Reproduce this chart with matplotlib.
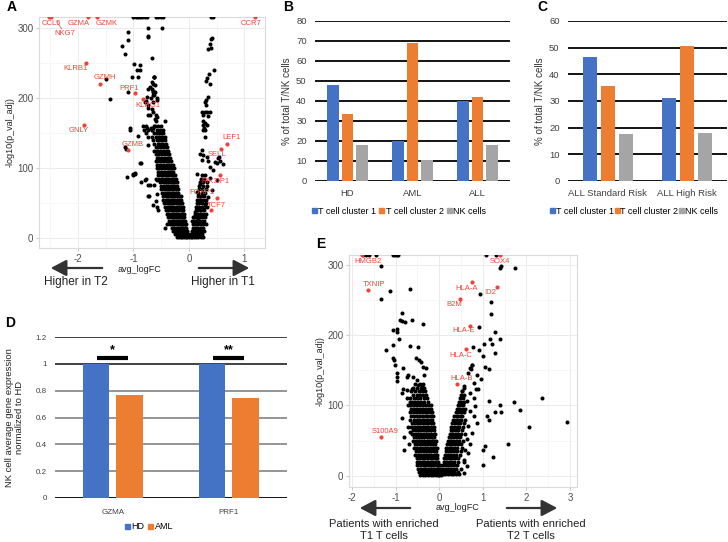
import matplotlib
matplotlib.use('Agg')
import matplotlib.pyplot as plt
from matplotlib.patches import FancyArrowPatch, Patch
from matplotlib.ticker import MultipleLocator

plt.rcParams['font.family'] = ['Liberation Sans', 'DejaVu Sans']
plt.rcParams['axes.unicode_minus'] = False

# ---------------- DATA ----------------
# Panel B
b_categories = ['HD', 'AML', 'ALL']
b_cluster1 = [48, 20, 40]
b_cluster2 = [33.5, 69, 42]
b_nk = [18, 10.5, 18]
# Panel C
c_categories = ['ALL Standard Risk', 'ALL High Risk']
c_cluster1 = [46.5, 31]
c_cluster2 = [35.5, 50.5]
c_nk = [17.5, 18]
# Panel D
d_genes = ['GZMA', 'PRF1']
d_hd = [1.0, 1.0]
d_aml = [0.765, 0.745]
d_sig = ['*', '**']
series_names = ['T cell cluster 1', 'T cell cluster 2', 'NK cells']

# Panel A volcano (avg_logFC, -log10 p_adj); points above the plot top are drawn at the top edge
a_top_x = [-1.0, -0.96, -0.92, -0.88, -0.84, -0.8, -0.76, -0.6, -0.55, -0.5, -0.46, 0.4, 0.43]
a_scatter_x = [-1.09, -0.73, -0.49, -0.73, -1.20, -1.15, -0.67, -0.99, -0.94, -1.03, -0.62, -0.91,
               -1.50, -1.09, -1.42, -0.64, -0.70, -0.67, -0.61, -0.76, -0.58, -0.79, -0.73, -0.67,
               -0.70, -0.61, -1.06, -0.82, -0.76, -0.66, -1.13, -1.15, -0.49, -0.88, -1.00, -0.97,
               -1.12, -0.79, -0.73, -0.73, -0.58, -1.09, -0.74, -0.89, -0.89, -0.62, -0.74, -0.65,
               -0.68, -0.62, -0.77, -0.65, -0.74, -0.65, -0.59, -0.74, -0.59, -0.77, -0.68, -0.74,
               -0.81, -1.07, -0.63, -0.67, -0.61, -0.64, -0.64, -0.57, -0.57, -0.43, -0.61, -0.65,
               -0.54, -0.92, -0.77, -0.74, -0.74, -0.86, -0.98, -1.01, -0.87, -0.77, -0.62, -0.59,
               -0.72, -0.59, -0.57, -0.70, -0.58, -0.43, -0.40, -0.64, -0.55,
               0.41, 0.39, 0.38, 0.35, 0.40, 0.46, 0.37, 0.33, 0.31, 0.38, 0.35, 0.31, 0.29, 0.31,
               0.29, 0.23, 0.32, 0.38, 0.26, 0.35, 0.26, 0.29, 0.25, 0.32, 0.27, 0.29, 0.26, 0.29,
               0.23, 0.20, 0.26, 0.32, 0.23, 0.35, 0.47, 0.53, 0.51, 0.38, 0.44, 0.14, 0.29, 0.38,
               0.50, 0.20, 0.32, 0.41, 0.14, 0.26, 0.35, 0.20, 0.29, 0.14, 0.23, 0.11, 0.20, 0.08,
               0.17, 0.05, 0.14, 0.56, 0.62, 0.55]
a_scatter_y = [294, 300, 300, 289, 274, 263, 258, 249, 240, 231, 231, 230,
               227, 209, 199, 220, 216, 213, 209, 202, 198, 195, 190, 185,
               176, 171, 157, 160, 157, 155, 128, 130, 143, 107, 92, 93,
               87, 83, 76, 61, 63, 283, 288, 248, 240, 230, 213, 209,
               200, 204, 196, 194, 186, 181, 176, 176, 167, 161, 157, 154,
               154, 155, 230, 223, 219, 211, 204, 200, 173, 167, 161, 157,
               150, 146, 150, 145, 133, 108, 92, 91, 80, 84, 76, 84,
               60, 53, 45, 76, 83, 14, 21, 47, 40,
               286, 285, 277, 271, 272, 240, 234, 229, 224, 220, 202, 198, 194, 191,
               181, 180, 180, 180, 176, 175, 168, 165, 162, 162, 158, 154, 154, 145,
               126, 121, 119, 116, 112, 110, 109, 114, 107, 102, 97, 92, 90, 86,
               83, 78, 74, 69, 66, 64, 59, 54, 49, 45, 42, 37, 34, 30,
               27, 25, 23, 111, 106, 116]
a_core_y = [160, 155, 150, 145, 140, 135, 130, 125, 120, 115, 110, 105, 100, 95, 90, 85, 80, 75,
            70, 65, 60, 55, 50, 45, 40, 35, 30, 25, 20, 15, 10, 6, 2]
a_core_left = [
    [-0.62, -0.55, -0.5], [-0.66, -0.58, -0.52, -0.47], [-0.63, -0.57, -0.51, -0.46],
    [-0.66, -0.6, -0.54, -0.48, -0.43], [-0.64, -0.58, -0.53, -0.48, -0.43],
    [-0.62, -0.56, -0.51, -0.46, -0.41], [-0.6, -0.55, -0.5, -0.45, -0.4],
    [-0.62, -0.57, -0.52, -0.47, -0.42, -0.37], [-0.6, -0.55, -0.5, -0.45, -0.4, -0.36],
    [-0.58, -0.53, -0.48, -0.43, -0.38, -0.34], [-0.6, -0.55, -0.5, -0.45, -0.4, -0.36, -0.32],
    [-0.57, -0.52, -0.47, -0.42, -0.37, -0.33, -0.29],
    [-0.58, -0.53, -0.48, -0.43, -0.38, -0.34, -0.3, -0.26],
    [-0.55, -0.5, -0.45, -0.4, -0.36, -0.32, -0.28],
    [-0.56, -0.51, -0.46, -0.41, -0.37, -0.33, -0.29, -0.25],
    [-0.53, -0.48, -0.43, -0.39, -0.35, -0.31, -0.27, -0.23],
    [-0.52, -0.47, -0.42, -0.38, -0.34, -0.3, -0.26, -0.22],
    [-0.5, -0.45, -0.41, -0.37, -0.33, -0.29, -0.25, -0.21],
    [-0.5, -0.45, -0.4, -0.36, -0.32, -0.28, -0.24, -0.2],
    [-0.48, -0.43, -0.39, -0.35, -0.31, -0.27, -0.23, -0.19],
    [-0.47, -0.42, -0.38, -0.34, -0.3, -0.26, -0.22, -0.18, -0.15],
    [-0.46, -0.41, -0.37, -0.33, -0.29, -0.25, -0.21, -0.17, -0.14],
    [-0.45, -0.4, -0.36, -0.32, -0.28, -0.24, -0.2, -0.16, -0.12],
    [-0.43, -0.38, -0.34, -0.3, -0.26, -0.22, -0.18, -0.14, -0.11],
    [-0.42, -0.37, -0.33, -0.29, -0.25, -0.21, -0.17, -0.13, -0.1],
    [-0.4, -0.35, -0.31, -0.27, -0.23, -0.19, -0.15, -0.12, -0.09],
    [-0.38, -0.33, -0.29, -0.25, -0.21, -0.17, -0.14, -0.11, -0.08],
    [-0.36, -0.31, -0.27, -0.23, -0.19, -0.16, -0.13, -0.1, -0.07],
    [-0.34, -0.3, -0.26, -0.22, -0.18, -0.15, -0.12, -0.09, -0.06],
    [-0.31, -0.27, -0.23, -0.19, -0.16, -0.13, -0.1, -0.07, -0.05],
    [-0.28, -0.24, -0.2, -0.17, -0.14, -0.11, -0.08, -0.05, -0.03],
    [-0.25, -0.21, -0.18, -0.15, -0.12, -0.09, -0.06, -0.04, -0.02],
    [-0.22, -0.18, -0.15, -0.12, -0.09, -0.06, -0.03, 0.0, 0.03]]
a_core_right_y = [2, 6, 10, 15, 20, 25, 30, 35, 40, 45, 50, 55, 60, 65, 70, 75, 80, 85, 90]
a_core_right = [
    [0.05, 0.09, 0.13, 0.17, 0.21, 0.25], [0.04, 0.08, 0.12, 0.16, 0.2, 0.24],
    [0.06, 0.1, 0.14, 0.18, 0.23, 0.27], [0.07, 0.11, 0.15, 0.2, 0.25],
    [0.08, 0.12, 0.16, 0.21, 0.26, 0.3], [0.09, 0.13, 0.18, 0.23, 0.28],
    [0.1, 0.14, 0.19, 0.24, 0.29], [0.11, 0.15, 0.2, 0.25, 0.31], [0.12, 0.17, 0.22, 0.27],
    [0.13, 0.18, 0.23, 0.28, 0.33], [0.14, 0.19, 0.24, 0.3], [0.15, 0.2, 0.26, 0.31],
    [0.16, 0.21, 0.27], [0.17, 0.23, 0.29], [0.18, 0.24, 0.3], [0.19, 0.25],
    [0.2, 0.26, 0.33], [0.22, 0.28], [0.23]]
a_genes = ['CCL5', 'GZMA', 'GZMK', 'CCR7', 'NKG7', 'KLRB1', 'GZMH', 'PRF1', 'KLRG1', 'GNLY',
           'GZMB', 'LEF1', 'SELL', 'PIK3IP1', 'FOXP1', 'TCF7']
a_gene_x = [-2.48, -1.82, -1.66, 1.19, -2.52, -1.86, -1.60, -0.97, -0.83, -1.89,
            -1.09, 0.68, 0.58, 0.56, 0.51, 0.40]
a_gene_y = [316, 316, 316, 316, 316, 250, 220, 207, 199, 162, 126, 135, 128, 90, 58, 40]
# label anchor positions (layout)
a_label_x = [-2.47, -1.99, -1.48, 1.12, -2.23, -2.05, -1.51, -1.08, -0.74, -1.98,
             -1.01, 0.77, 0.50, 0.47, 0.23, 0.50]
a_label_y = [307, 307, 307, 307, 293, 243, 230, 214, 190, 154, 134, 144, 120, 81, 65, 47]

# Panel E volcano
e_top_x = [-1.75, -1.69, -1.6, -1.45, -1.06, -1.02, -0.98, -0.94, 1.08, 1.3]
e_scatter_x = [-1.34, -1.13, -1.34, -0.67, 1.39, 1.41, 1.73, 0.94, 1.19, 1.19, 0.92, 1.28, 1.40,
               1.17, 1.21, 0.77, 1.03, 0.92, 1.01, 1.28, 0.75, 0.72, 1.05, 1.13, 0.67, 0.86,
               0.95, 0.79, 0.88, 0.56, 0.52, 1.15, 1.40, 1.41, 1.28, 1.09, 1.15, 0.71, 0.79,
               0.63, 0.82, 0.71, 0.79, 0.86, 0.67, 0.75, 0.63, 0.71, 0.59, 0.67, 0.56, 0.63,
               0.57, 1.05, 1.00, 1.24, 1.01, 1.57, 1.72, 1.85, 2.07, 2.35, 2.94, 0.74, 0.70,
               0.85,
               -0.85, -0.90, -0.86, -0.79, -0.62, -0.37, -1.05, -0.96, -0.98, -0.92, -1.21,
               -1.05, -0.67, -0.48, -1.05, -1.03, -0.53, -0.47, -0.42, -1.02, -0.98, -0.98,
               -0.98, -0.82, -0.71, -0.73, -0.37, -0.31, -0.35, -0.60, -0.50, -0.48, -0.82,
               -0.75, -0.63, -0.86, -0.75, -0.67, -0.71, -0.40, -0.37, -0.86, -0.81, -0.80,
               -0.72, -0.66, -0.70]
e_scatter_y = [299, 263, 252, 266, 296, 298, 296, 259, 247, 230, 211, 204, 195,
               195, 188, 183, 187, 179, 171, 174, 158, 152, 155, 152, 146, 143,
               138, 132, 123, 128, 120, 106, 100, 91, 91, 85, 79, 118, 111,
               106, 99, 92, 85, 75, 71, 61, 52, 45, 37, 33, 23, 14,
               4, 43, 37, 27, 16, 45, 105, 94, 70, 110, 77, 157, 153,
               123,
               232, 222, 220, 219, 221, 216, 207, 209, 204, 194, 179,
               186, 185, 183, 167, 164, 168, 164, 162, 157, 146, 140,
               135, 153, 143, 141, 155, 153, 143, 141, 136, 129, 124,
               122, 124, 117, 110, 105, 100, 127, 122, 82, 55, 36,
               70, 62, 45]
e_core_left_y = [130, 125, 120, 115, 110, 105, 100, 95, 90, 85, 80, 75, 70, 65, 60, 55, 50, 45,
                 40, 35, 30, 25, 20, 15, 10, 5, 1]
e_core_left = [
    [-0.55, -0.45, -0.38], [-0.6, -0.5, -0.42, -0.35], [-0.64, -0.55, -0.47, -0.4, -0.32],
    [-0.6, -0.52, -0.45, -0.38, -0.3], [-0.66, -0.58, -0.5, -0.43, -0.36, -0.28],
    [-0.62, -0.55, -0.48, -0.41, -0.34, -0.26],
    [-0.68, -0.61, -0.54, -0.47, -0.4, -0.33, -0.26, -0.19],
    [-0.65, -0.58, -0.51, -0.45, -0.38, -0.31, -0.24, -0.18],
    [-0.67, -0.6, -0.53, -0.46, -0.4, -0.33, -0.27, -0.21, -0.16],
    [-0.64, -0.57, -0.5, -0.44, -0.37, -0.31, -0.25, -0.19, -0.14],
    [-0.66, -0.59, -0.52, -0.46, -0.4, -0.34, -0.28, -0.22, -0.16],
    [-0.62, -0.55, -0.49, -0.43, -0.37, -0.31, -0.25, -0.19, -0.14],
    [-0.64, -0.57, -0.5, -0.44, -0.38, -0.32, -0.26, -0.2, -0.13],
    [-0.6, -0.54, -0.48, -0.42, -0.36, -0.3, -0.24, -0.18, -0.12],
    [-0.62, -0.55, -0.49, -0.43, -0.37, -0.31, -0.25, -0.19, -0.13, -0.1],
    [-0.58, -0.52, -0.46, -0.4, -0.34, -0.28, -0.22, -0.16, -0.11],
    [-0.6, -0.53, -0.47, -0.41, -0.35, -0.29, -0.23, -0.17, -0.12, -0.08],
    [-0.56, -0.5, -0.44, -0.38, -0.32, -0.26, -0.2, -0.14, -0.09],
    [-0.57, -0.51, -0.45, -0.39, -0.33, -0.27, -0.21, -0.15, -0.1, -0.06],
    [-0.54, -0.48, -0.42, -0.36, -0.3, -0.24, -0.18, -0.12, -0.07],
    [-0.55, -0.49, -0.43, -0.37, -0.31, -0.25, -0.19, -0.13, -0.08, -0.04],
    [-0.52, -0.46, -0.4, -0.34, -0.28, -0.22, -0.16, -0.1, -0.05],
    [-0.5, -0.44, -0.38, -0.32, -0.26, -0.2, -0.14, -0.08, -0.03],
    [-0.5, -0.44, -0.38, -0.32, -0.26, -0.2, -0.14, -0.08, -0.03, 0.01],
    [-0.48, -0.42, -0.36, -0.3, -0.24, -0.18, -0.12, -0.06, -0.02, 0.02],
    [-0.46, -0.4, -0.34, -0.28, -0.22, -0.16, -0.1, -0.05, 0.0, 0.03],
    [-0.44, -0.38, -0.32, -0.26, -0.2, -0.14, -0.08, -0.03, 0.0, 0.05]]
e_core_right_y = [2, 6, 10, 15, 20, 25, 30, 35, 40, 45, 50, 55, 60, 65, 70, 75, 80, 85, 90, 95,
                  100, 105, 110, 115, 120, 125]
e_core_right = [
    [0.02, 0.08, 0.14, 0.2, 0.26, 0.32, 0.38, 0.45], [0.05, 0.11, 0.17, 0.23, 0.29, 0.35, 0.42],
    [0.07, 0.13, 0.19, 0.25, 0.31, 0.38, 0.5], [0.09, 0.15, 0.21, 0.27, 0.33, 0.4],
    [0.1, 0.16, 0.22, 0.28, 0.34, 0.42, 0.56], [0.12, 0.18, 0.24, 0.3, 0.36, 0.44],
    [0.13, 0.19, 0.25, 0.31, 0.38, 0.47], [0.15, 0.21, 0.27, 0.33, 0.4, 0.5],
    [0.16, 0.22, 0.28, 0.34, 0.41, 0.52], [0.18, 0.24, 0.3, 0.36, 0.43, 0.5],
    [0.2, 0.26, 0.32, 0.38, 0.45, 0.55], [0.22, 0.28, 0.34, 0.4, 0.47],
    [0.24, 0.3, 0.36, 0.42, 0.5, 0.6], [0.26, 0.32, 0.38, 0.44, 0.52],
    [0.28, 0.34, 0.4, 0.46, 0.54], [0.3, 0.36, 0.42, 0.48, 0.56], [0.32, 0.38, 0.44, 0.5, 0.6],
    [0.35, 0.41, 0.47, 0.53], [0.38, 0.44, 0.5, 0.57], [0.4, 0.46, 0.52, 0.6],
    [0.42, 0.48, 0.54], [0.45, 0.51, 0.57], [0.48, 0.54], [0.5, 0.57], [0.53], [0.56]]
e_genes = ['HMGB2', 'SOX4', 'TXNIP', 'HLA-A', 'ID2', 'B2M', 'HLA-E', 'HLA-C', 'HLA-B', 'S100A9']
e_gene_x = [-1.78, 1.39, -1.63, 0.74, 1.32, 0.47, 0.70, 0.61, 0.40, -1.34]
e_gene_y = [314, 314, 264, 275, 269, 251, 213, 180, 130, 55]
e_label_x = [-1.64, 1.39, -1.50, 0.63, 1.18, 0.34, 0.57, 0.50, 0.51, -1.23]
e_label_y = [305, 305, 272, 266, 261, 243, 206, 171, 138, 63]

# ---------------- STYLE ----------------
W, H = 728, 542
fig = plt.figure(figsize=(W / 100, H / 100), dpi=100)
RED = '#F0443A'
BLUE, ORANGE, GRAY = '#4472C4', '#ED7D31', '#A5A5A5'


def rect(x0, y0, x1, y1):
    return [x0 / W, 1 - y1 / H, (x1 - x0) / W, (y1 - y0) / H]


def fx(px):
    return px / W


def fy(py):
    return 1 - py / H


def flatten(ys, rows):
    xs, yy = [], []
    for y, row in zip(ys, rows):
        for x in row:
            xs.append(x)
            yy.append(y)
    return xs, yy


def volcano(ax, xlim, ylim, xticks, top_x, sx, sy, cores, gx, gy, genes, lx, ly):
    ax.set_xlim(*xlim)
    ax.set_ylim(*ylim)
    ax.set_xticks(xticks)
    ax.set_yticks([0, 100, 200, 300])
    ax.xaxis.set_minor_locator(MultipleLocator(0.5))
    ax.yaxis.set_minor_locator(MultipleLocator(50))
    ax.grid(True, which='major', color='#EBEBEB', lw=0.7, zorder=0)
    ax.grid(True, which='minor', color='#F4F4F4', lw=0.5, zorder=0)
    ax.set_axisbelow(True)
    for s in ax.spines.values():
        s.set_color('#DADADA')
        s.set_linewidth(0.8)
    ax.tick_params(which='major', length=2, color='#CCCCCC', labelsize=7, labelcolor='#4D4D4D', pad=2)
    ax.tick_params(which='minor', length=0)
    kw = dict(s=8.5, c='black', linewidths=0, zorder=3)
    for ys, rows in cores:
        cx, cy = flatten(ys, rows)
        ax.scatter(cx, cy, **kw)
    ax.scatter(sx, sy, **kw)
    ax.scatter(top_x, [ylim[1]] * len(top_x), **kw)
    ax.scatter(gx, gy, s=9, c=RED, linewidths=0, zorder=4)
    for g, x, y in zip(genes, lx, ly):
        ax.text(x, y, g, color=RED, fontsize=5.5, ha='center', va='center', zorder=5)
    ax.set_ylabel('-log10(p_val_adj)', fontsize=6.5, color='#222222', labelpad=2)
    ax.set_xlabel('avg_logFC', fontsize=6.5, color='#222222')


def arrow(x0, x1, y):
    fig.add_artist(FancyArrowPatch((fx(x0), fy(y)), (fx(x1), fy(y)), transform=fig.transFigure,
                                   arrowstyle='-|>,head_length=0.95,head_width=0.5',
                                   mutation_scale=10, lw=1.6, color='#333333'))


# ---- Panel A ----
axA = fig.add_axes(rect(39, 17, 265, 248))
volcano(axA, (-2.70, 1.37), (-14, 316), [-2, -1, 0, 1], a_top_x, a_scatter_x, a_scatter_y,
        [(a_core_y, a_core_left), (a_core_right_y, a_core_right)],
        a_gene_x, a_gene_y, a_genes, a_label_x, a_label_y)
axA.plot([-2.38, -2.29], [309, 299], color=RED, lw=0.5, zorder=4)
axA.xaxis.set_label_coords((140 - 39) / 226, -0.075)
arrow(105, 48, 268)
arrow(196, 252, 268)
fig.text(fx(76), fy(282), 'Higher in T2', fontsize=8.5, ha='center', va='center', color='#222222')
fig.text(fx(223), fy(282), 'Higher in T1', fontsize=8.5, ha='center', va='center', color='#222222')

# ---- Panel E ----
axE = fig.add_axes(rect(349, 255, 577, 487))
volcano(axE, (-2.07, 3.16), (-16, 314), [-2, -1, 0, 1, 2, 3], e_top_x, e_scatter_x, e_scatter_y,
        [(e_core_left_y, e_core_left), (e_core_right_y, e_core_right)],
        e_gene_x, e_gene_y, e_genes, e_label_x, e_label_y)
axE.xaxis.set_label_coords((457 - 349) / 228, -0.07)
arrow(413, 357, 508)
arrow(504, 560, 508)
fig.text(fx(384), fy(530), 'Patients with enriched\nT1 T cells', fontsize=8, ha='center',
         va='center', color='#222222', linespacing=1.15)
fig.text(fx(531), fy(530), 'Patients with enriched\nT2 T cells', fontsize=8, ha='center',
         va='center', color='#222222', linespacing=1.15)


# ---- Bar panels ----
def bar_panel(ax, cats, series, colors, width, offsets, ymax, ystep, gridcolors, fs_tick, fs_cat):
    n = len(cats)
    ax.set_xlim(-0.5, n - 0.5)
    ax.set_ylim(0, ymax)
    ticks = [i * ystep for i in range(int(round(ymax / ystep)) + 1)]
    for t, gc in zip(ticks, gridcolors):
        ax.axhline(t, color=gc, lw=1.3, zorder=1)
    for vals, col, off in zip(series, colors, offsets):
        ax.bar([i + off for i in range(n)], vals, width=width, color=col, zorder=2)
    ax.set_yticks(ticks)
    ax.set_xticks(range(n))
    ax.set_xticklabels(cats, fontsize=fs_cat, color='#404040')
    ax.tick_params(axis='y', length=0, labelsize=fs_tick, labelcolor='#404040', pad=6)
    ax.tick_params(axis='x', length=0, pad=6)
    for s in ax.spines.values():
        s.set_visible(False)


axB = fig.add_axes(rect(315, 21, 510, 181))
bar_panel(axB, b_categories, [b_cluster1, b_cluster2, b_nk], [BLUE, ORANGE, GRAY], 0.17,
          [-0.223, 0, 0.223], 80, 10, ['black'] * 9, 6.8, 6.8)
axB.set_yticklabels([str(t) for t in range(0, 90, 10)])
axB.set_ylabel('% of total T/NK cells', fontsize=7, color='#333333', labelpad=3)
axB.legend(handles=[Patch(color=c, label=l) for c, l in zip([BLUE, ORANGE, GRAY], series_names)],
           loc='center', bbox_to_anchor=(0.43, -0.19), ncol=3, frameon=False, fontsize=6.5,
           handlelength=0.55, handleheight=0.55, handletextpad=0.15, columnspacing=0.35)

axC = fig.add_axes(rect(568, 21, 727, 181))
bar_panel(axC, c_categories, [c_cluster1, c_cluster2, c_nk], [BLUE, ORANGE, GRAY], 0.176,
          [-0.226, 0, 0.226], 60, 10, ['black'] * 7, 6.8, 6.8)
axC.set_ylabel('% of total T/NK cells', fontsize=7, color='#333333', labelpad=3)
axC.legend(handles=[Patch(color=c, label=l) for c, l in zip([BLUE, ORANGE, GRAY], series_names)],
           loc='center', bbox_to_anchor=(0.415, -0.19), ncol=3, frameon=False, fontsize=6.5,
           handlelength=0.55, handleheight=0.55, handletextpad=0.1, columnspacing=0.05)

axD = fig.add_axes(rect(55, 337, 287, 498))
bar_panel(axD, d_genes, [d_hd, d_aml], [BLUE, ORANGE], 0.225, [-0.146, 0.142], 1.2, 0.2,
          ['black', '#8C8C8C', '#8C8C8C', '#8C8C8C', '#8C8C8C', '#333333', '#333333'], 5.8, 5.8)
axD.set_yticklabels(['0', '0.2', '0.4', '0.6', '0.8', '1', '1.2'])
axD.tick_params(axis='x', pad=8)
for i, s in enumerate(d_sig):
    axD.plot([i - 0.138, i + 0.13], [1.043, 1.043], color='black', lw=3,
             solid_capstyle='butt', zorder=4)
    axD.text(i - 0.004, 1.055, s, fontsize=9, ha='center', va='bottom', fontweight='bold')
axD.set_ylabel('NK cell average gene expression\nnormalized to HD', fontsize=6.8, color='#222222',
               labelpad=8, linespacing=1.2)
axD.legend(handles=[Patch(color=c, label=l) for c, l in zip([BLUE, ORANGE], ['HD', 'AML'])],
           loc='center', bbox_to_anchor=(0.405, -0.18), ncol=2, frameon=False, fontsize=6.5,
           handlelength=0.55, handleheight=0.55, handletextpad=0.15, columnspacing=0.5)

# ---- panel letters ----
for letter, x, y in [('A', 12, 7), ('B', 288, 7), ('C', 542, 7), ('D', 10, 323), ('E', 321, 244)]:
    fig.text(fx(x), fy(y), letter, fontsize=10, fontweight='bold', ha='center', va='center')

fig.savefig('out.png', dpi=100)
